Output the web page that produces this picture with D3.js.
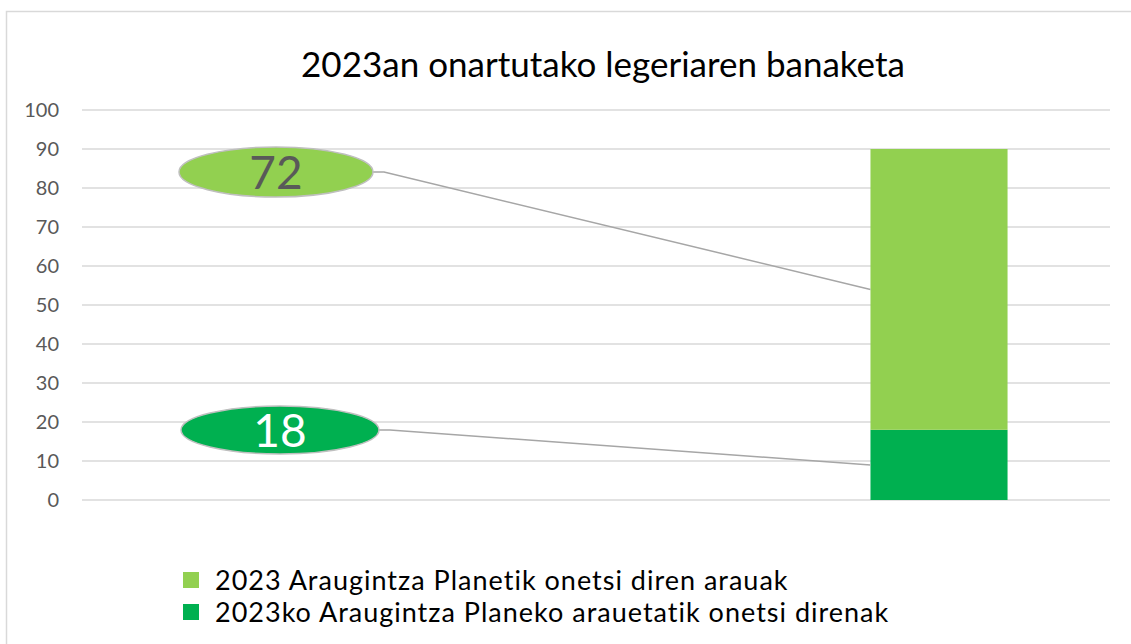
<!DOCTYPE html>
<html>
<head>
<meta charset="utf-8">
<script src="https://cdn.jsdelivr.net/npm/d3@7"></script>
<style>
  html, body { margin: 0; padding: 0; background: #fff; }
  svg { display: block; font-family: Lato, "Open Sans", sans-serif; }
</style>
</head>
<body>
<div id="chart"></div>
<script>
const categories = ['2023'];
const seriesNames = [
  '2023 Araugintza Planetik onetsi diren arauak',
  '2023ko Araugintza Planeko arauetatik onetsi direnak'
];
const planValues = [72];
const otherValues = [18];
const yTicks = [0, 10, 20, 30, 40, 50, 60, 70, 80, 90, 100];
const title = '2023an onartutako legeriaren banaketa';

const colors = {plan: '#92d050', other: '#00b050'};

const width = 1131, height = 644;
const margin = {top: 110, right: 21, bottom: 144, left: 82};

const svg = d3.select('#chart').append('svg')
  .attr('width', width)
  .attr('height', height);

// chart frame
svg.append('rect')
  .attr('x', 6.5).attr('y', 11.5)
  .attr('width', 1140).attr('height', 660)
  .attr('fill', 'none')
  .attr('stroke', '#d9d9d9')
  .attr('stroke-width', 1.5);

svg.append('text')
  .attr('x', 603).attr('y', 77)
  .attr('text-anchor', 'middle')
  .attr('font-size', 35)
  .attr('fill', '#000')
  .text(title);

const y = d3.scaleLinear()
  .domain([0, 100])
  .range([height - margin.bottom, margin.top]);

const x = d3.scaleBand()
  .domain(categories)
  .range([margin.left, width - margin.right])
  .paddingInner(0)
  .paddingOuter(3.25)
  .align(0.885);

// gridlines
svg.append('g')
  .selectAll('line')
  .data(yTicks)
  .enter().append('line')
  .attr('x1', margin.left)
  .attr('x2', width - margin.right)
  .attr('y1', d => y(d))
  .attr('y2', d => y(d))
  .attr('stroke', '#d9d9d9')
  .attr('stroke-width', 1.5);

const yAxis = svg.append('g')
  .attr('transform', `translate(${margin.left - 23},0)`)
  .call(d3.axisLeft(y).tickValues(yTicks).tickSize(0).tickPadding(0));
yAxis.select('.domain').remove();
yAxis.selectAll('text')
  .attr('font-size', 20)
  .attr('font-family', 'Lato, "Open Sans", sans-serif')
  .attr('fill', '#595959');

// stacked bars
const stacked = categories.map((c, i) => ({
  cat: c,
  segs: [
    {key: 'other', y0: 0, y1: otherValues[i], v: otherValues[i]},
    {key: 'plan', y0: otherValues[i], y1: otherValues[i] + planValues[i], v: planValues[i]}
  ]
}));

const bars = svg.append('g');
stacked.forEach(s => {
  bars.selectAll(null)
    .data(s.segs)
    .enter().append('rect')
    .attr('x', x(s.cat))
    .attr('width', x.bandwidth())
    .attr('y', d => y(d.y1))
    .attr('height', d => y(d.y0) - y(d.y1))
    .attr('fill', d => colors[d.key]);
});

// callout labels (ellipses with leader lines)
const callouts = [
  {key: 'plan', v: planValues[0], seg: stacked[0].segs[1], cx: 276, cy: 172, rx: 97, ry: 25, text: '#595959'},
  {key: 'other', v: otherValues[0], seg: stacked[0].segs[0], cx: 280, cy: 430, rx: 99, ry: 24, text: '#ffffff'}
];

const cg = svg.append('g');
callouts.forEach(c => {
  const ex = c.cx + c.rx;
  cg.append('polyline')
    .attr('points', [[ex, c.cy], [ex + 11, c.cy], [x(categories[0]), y((c.seg.y0 + c.seg.y1) / 2)]].join(' '))
    .attr('fill', 'none')
    .attr('stroke', '#a6a6a6')
    .attr('stroke-width', 1.5);
  cg.append('ellipse')
    .attr('cx', c.cx).attr('cy', c.cy)
    .attr('rx', c.rx).attr('ry', c.ry)
    .attr('fill', colors[c.key])
    .attr('stroke', '#bfbfbf')
    .attr('stroke-width', 1.5);
  cg.append('text')
    .attr('x', c.cx).attr('y', c.cy + 17)
    .attr('text-anchor', 'middle')
    .attr('font-size', 46)
    .attr('fill', c.text)
    .text(c.v);
});

// legend
const legend = svg.append('g').attr('transform', 'translate(183,572)');
const legendKeys = ['plan', 'other'];
legendKeys.forEach((k, i) => {
  const row = legend.append('g').attr('transform', `translate(0,${i * 32})`);
  row.append('rect')
    .attr('width', 16).attr('height', 16)
    .attr('fill', colors[k]);
  row.append('text')
    .attr('x', 32).attr('y', 18)
    .attr('font-size', 27)
    .attr('letter-spacing', 1)
    .attr('fill', '#000')
    .text(seriesNames[i]);
});
</script>
</body>
</html>
